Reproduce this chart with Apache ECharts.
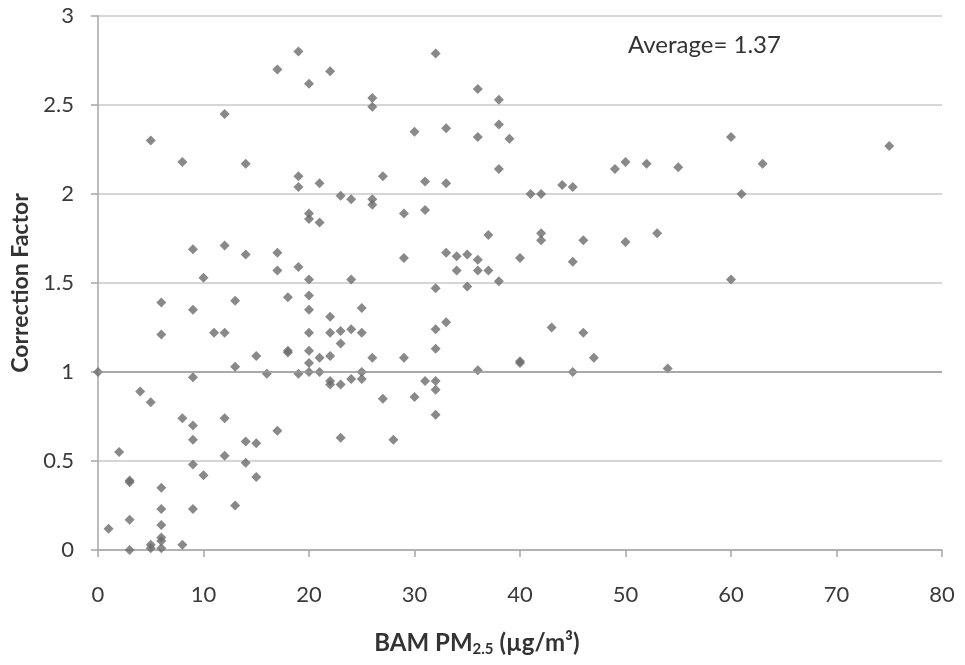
<!DOCTYPE html>
<html>
<head>
<meta charset="utf-8">
<script src="https://cdn.jsdelivr.net/npm/echarts@6/dist/echarts.min.js"></script>
<style>html,body{margin:0;padding:0;background:#fff}#c{width:965px;height:665px}</style>
</head>
<body>
<div id="c"></div>
<script>
const bamPM = [19,17,20,12,5,8,14,19,19,20,20,9,12,14,17,17,19,10,20,22,26,26,32,36,38,30,33,36,38,39,38,21,27,31,33,23,24,26,26,21,29,31,37,29,33,34,35,36,36,37,34,24,38,40,32,35,60,49,50,52,55,44,45,41,42,42,42,46,50,53,45,60,63,75,61,6,6,9,11,12,13,18,20,20,20,20,20,18,18,15,13,16,19,0,9,4,5,8,9,12,9,14,15,17,2,12,9,14,10,15,3,3,6,6,9,13,3,1,6,6,6,5,5,3,6,8,20,21,21,22,22,22,22,22,23,23,23,24,24,25,25,25,25,26,29,27,30,31,32,32,32,23,28,33,32,32,36,40,40,43,46,47,45,54];
const correction = [2.80,2.70,2.62,2.45,2.30,2.18,2.17,2.10,2.04,1.89,1.86,1.69,1.71,1.66,1.67,1.57,1.59,1.53,1.52,2.69,2.54,2.49,2.79,2.59,2.53,2.35,2.37,2.32,2.39,2.31,2.14,2.06,2.10,2.07,2.06,1.99,1.97,1.97,1.94,1.84,1.89,1.91,1.77,1.64,1.67,1.65,1.66,1.63,1.57,1.57,1.57,1.52,1.51,1.64,1.47,1.48,2.32,2.14,2.18,2.17,2.15,2.05,2.04,2.00,2.00,1.78,1.74,1.74,1.73,1.78,1.62,1.52,2.17,2.27,2.00,1.39,1.21,1.35,1.22,1.22,1.40,1.42,1.43,1.35,1.22,1.12,1.05,1.12,1.11,1.09,1.03,0.99,0.99,1.00,0.97,0.89,0.83,0.74,0.70,0.74,0.62,0.61,0.60,0.67,0.55,0.53,0.48,0.49,0.42,0.41,0.39,0.38,0.35,0.23,0.23,0.25,0.17,0.12,0.14,0.07,0.05,0.03,0.01,0.00,0.01,0.03,1.00,1.08,1.00,1.31,1.22,1.09,0.95,0.93,1.23,1.16,0.93,1.24,0.96,1.36,1.22,1.00,0.96,1.08,1.08,0.85,0.86,0.95,0.95,0.90,0.76,0.63,0.62,1.28,1.24,1.13,1.01,1.06,1.05,1.25,1.22,1.08,1.00,1.02];
const averageText = 'Average= 1.37';
const refLineY = 1;

const points = bamPM.map((x, i) => [x, correction[i]]);
const font = 'Lato, "Open Sans", sans-serif';

const chart = echarts.init(document.getElementById('c'), null, {renderer: 'canvas'});
chart.setOption({
  animation: false,
  backgroundColor: '#fff',
  grid: {left: 98, right: 23, top: 16, bottom: 115},
  xAxis: {
    type: 'value', min: 0, max: 80, interval: 10,
    axisLine: {show: true, onZero: false, lineStyle: {color: '#a6a6a6', width: 1.5}},
    axisTick: {show: true, length: 7, lineStyle: {color: '#a6a6a6', width: 1.5}},
    splitLine: {show: false},
    axisLabel: {color: '#3a3a3a', fontSize: 22, fontFamily: font, margin: 34},
    name: '{b|BAM PM}{s|2.5}{b| (µg/m³)}',
    nameLocation: 'middle', nameGap: 80,
    nameTextStyle: {
      padding: [0, 86, 0, 0],
      rich: {
        b: {fontSize: 24, fontWeight: 'bold', color: '#333', fontFamily: font},
        s: {fontSize: 15, fontWeight: 'bold', color: '#333', fontFamily: font, verticalAlign: 'bottom', padding: [12, 0, 0, 0]}
      }
    }
  },
  yAxis: {
    type: 'value', min: 0, max: 3, interval: 0.5,
    axisLine: {show: true, lineStyle: {color: '#a6a6a6', width: 1.5}},
    axisTick: {show: true, length: 7, lineStyle: {color: '#a6a6a6', width: 1.5}},
    splitLine: {show: true, lineStyle: {color: '#c8c8c8', width: 1.5}},
    axisLabel: {color: '#3a3a3a', fontSize: 22, fontFamily: font, margin: 24},
    name: 'Correction Factor',
    nameLocation: 'middle', nameGap: 62,
    nameTextStyle: {fontSize: 23, fontWeight: 'bold', color: '#333', fontFamily: font}
  },
  series: [{
    type: 'scatter',
    data: points,
    symbol: 'diamond',
    symbolSize: 10,
    itemStyle: {color: '#6b6b6b'},
    markLine: {
      silent: true, symbol: 'none', label: {show: false},
      lineStyle: {color: '#9a9a9a', width: 1.5, type: 'solid'},
      data: [{yAxis: refLineY}]
    }
  }],
  graphic: [{
    type: 'text', x: 628, y: 45,
    style: {text: averageText, fontSize: 24, fill: '#333', fontFamily: font, verticalAlign: 'middle'}
  }]
});
</script>
</body>
</html>
